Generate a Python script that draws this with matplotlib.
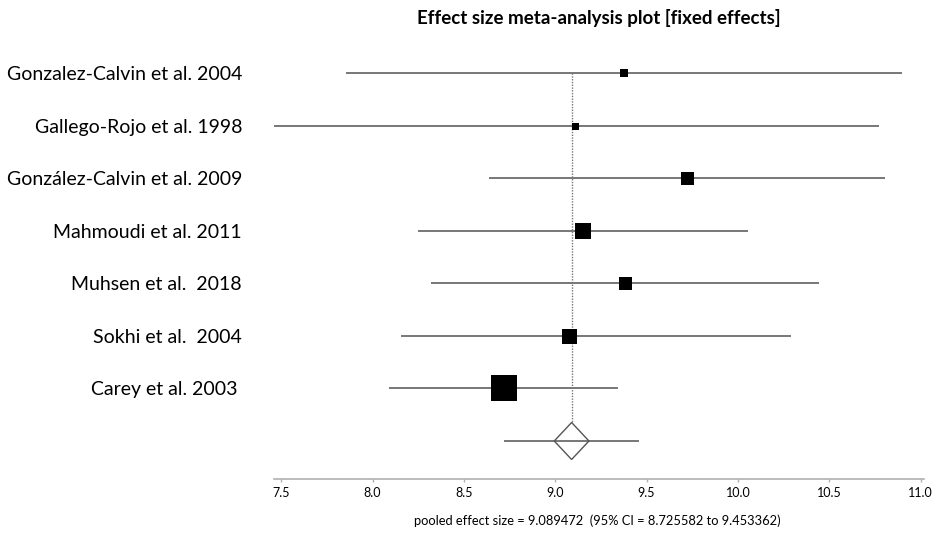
import matplotlib
matplotlib.use("Agg")
import matplotlib.pyplot as plt
from matplotlib.patches import Polygon

# study estimates
studies = ["Gonzalez-Calvin et al. 2004", "Gallego-Rojo et al. 1998",
           "González-Calvin et al. 2009", "Mahmoudi et al. 2011",
           "Muhsen et al.  2018", "Sokhi et al.  2004", "Carey et al. 2003 "]
effect = [9.378, 9.109, 9.722, 9.153, 9.383, 9.073, 8.721]
ci_low = [7.856, 7.451, 8.639, 8.250, 8.321, 8.157, 8.091]
ci_high = [10.899, 10.773, 10.806, 10.056, 10.445, 10.290, 9.345]
weights = [8, 7, 13, 16, 13, 15, 27]  # relative box size

pooled = 9.089472
pooled_low = 8.725582
pooled_high = 9.453362

xticks = [7.5, 8.0, 8.5, 9.0, 9.5, 10.0, 10.5, 11.0]

plt.rcParams["font.family"] = ["Lato", "DejaVu Sans"]
fig = plt.figure(figsize=(9.46, 5.33), dpi=100)
ax = fig.add_axes([0.2896, 0.1013, 0.6874, 0.8049])

rows = list(range(len(studies)))
pooled_row = len(studies)
half_h = 0.352

for i in rows:
    ax.plot([ci_low[i], ci_high[i]], [i, i], color="#777777", lw=1.4,
            solid_capstyle="butt", zorder=2)
    ax.plot(effect[i], i, marker="s", color="black", ms=weights[i] * 0.72,
            mec="black", mew=0, linestyle="none", zorder=4)

ax.plot([pooled, pooled], [0, pooled_row - half_h], color="#777777",
        lw=1.0, linestyle=(0, (1, 1)), zorder=1)

ax.plot([pooled_low, pooled_high], [pooled_row, pooled_row], color="#777777",
        lw=1.4, zorder=2)
diamond = Polygon([(pooled - 0.095, pooled_row), (pooled, pooled_row - half_h),
                   (pooled + 0.095, pooled_row), (pooled, pooled_row + half_h)],
                  closed=True, fill=False, edgecolor="#555555", lw=1.0, zorder=3)
ax.add_patch(diamond)

ax.set_xlim(7.46, 11.02)
ax.set_ylim(7.723, -0.4375)
ax.set_xticks(xticks, [f"{t:.1f}" for t in xticks])
ax.set_yticks(rows, studies)
ax.tick_params(axis="y", length=0, pad=23, labelsize=14)
ax.tick_params(axis="x", length=2, width=1, color="#b0b0b0", labelsize=9,
               pad=4, direction="out")
for s in ("top", "right", "left"):
    ax.spines[s].set_visible(False)
ax.spines["bottom"].set_color("#b0b0b0")
ax.spines["bottom"].set_linewidth(1.2)

fig.text(0.633, 0.966, "Effect size meta-analysis plot [fixed effects]",
         ha="center", va="center", fontsize=13.5, fontweight="bold")
fig.text(0.631, 0.0225,
         f"pooled effect size = {pooled:.6f}  (95% CI = {pooled_low:.6f} to {pooled_high:.6f})",
         ha="center", va="center", fontsize=9.3)

fig.savefig("out.png", dpi=100)
